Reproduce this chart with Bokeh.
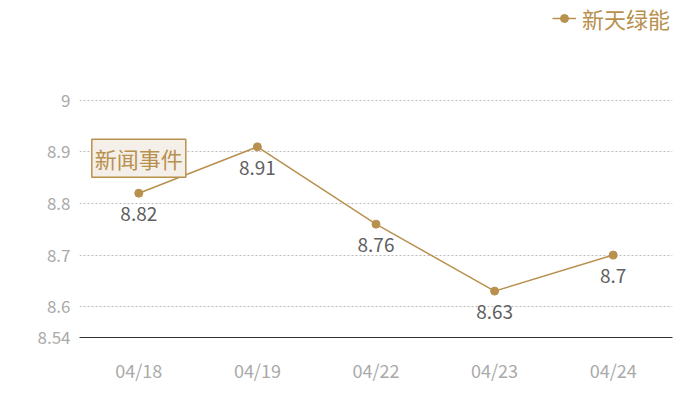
from bokeh.plotting import figure
from bokeh.models import ColumnDataSource, FixedTicker, Legend, LegendItem, Label
from bokeh.core.properties import value
from bokeh.embed import file_html
from bokeh.resources import INLINE

dates = ["04/18", "04/19", "04/22", "04/23", "04/24"]
prices = [8.82, 8.91, 8.76, 8.63, 8.70]
price_labels = ["8.82", "8.91", "8.76", "8.63", "8.7"]
y_ticks = [8.54, 8.6, 8.7, 8.8, 8.9, 9.0]
y_bottom, y_top = 8.54, 9.194
series_name = "新天绿能"
event_text = "新闻事件"
event_index = 0
event_level = 8.888

FONT = "Noto Sans CJK SC"
GOLD = "#b8914f"

src = ColumnDataSource(dict(x=dates, y=prices, lab=price_labels))

p = figure(x_range=dates, y_range=(y_bottom, y_top), width=692, height=392,
           output_backend="svg", toolbar_location=None,
           min_border_left=79, min_border_right=20, min_border_top=0, min_border_bottom=55)
p.outline_line_color = None
p.background_fill_color = "white"

r_line = p.line("x", "y", source=src, line_color=GOLD, line_width=1.5)
r_pts = p.scatter("x", "y", source=src, size=8, fill_color=GOLD, line_color=GOLD)

p.text("x", "y", text="lab", source=src, text_align="center", text_baseline="top",
       y_offset=14, text_font=value(FONT), text_font_size="19px", text_color="#606060")

p.yaxis.ticker = FixedTicker(ticks=y_ticks)
p.yaxis.major_label_overrides = {8.54: "8.54", 9.0: "9"}
p.yaxis.axis_line_color = None
p.yaxis.major_tick_line_color = None
p.yaxis.minor_tick_line_color = None
p.yaxis.major_label_text_font = FONT
p.yaxis.major_label_text_font_size = "17px"
p.yaxis.major_label_text_color = "#aaaaaa"
p.yaxis.major_label_standoff = 3

p.xaxis.axis_line_color = "#333333"
p.xaxis.axis_line_width = 1
p.xaxis.major_tick_line_color = None
p.xaxis.minor_tick_line_color = None
p.xaxis.major_label_text_font = FONT
p.xaxis.major_label_text_font_size = "18px"
p.xaxis.major_label_text_color = "#aaaaaa"
p.xaxis.major_label_standoff = 13

p.xgrid.grid_line_color = None
p.ygrid.grid_line_color = "#bbbbbb"
p.ygrid.grid_line_dash = "2 2"
p.ygrid.grid_line_width = 1

lbl = Label(x=event_index + 0.5, y=event_level, text=event_text, text_align="center", text_baseline="middle",
            text_font=FONT, text_font_size="22px", text_color=GOLD,
            background_fill_color="#f4efe8", border_line_color=GOLD, border_line_width=1.5,
            padding=3)
p.add_layout(lbl)

legend = Legend(items=[LegendItem(label=series_name, renderers=[r_line, r_pts])],
                location="top_right", orientation="horizontal",
                label_text_font=FONT, label_text_font_size="22px", label_text_color=GOLD,
                glyph_width=24, glyph_height=20, padding=0, margin=2, spacing=0,
                label_standoff=6, border_line_color=None, background_fill_alpha=0)
p.add_layout(legend)

open("out.html", "w").write(file_html(p, INLINE))
